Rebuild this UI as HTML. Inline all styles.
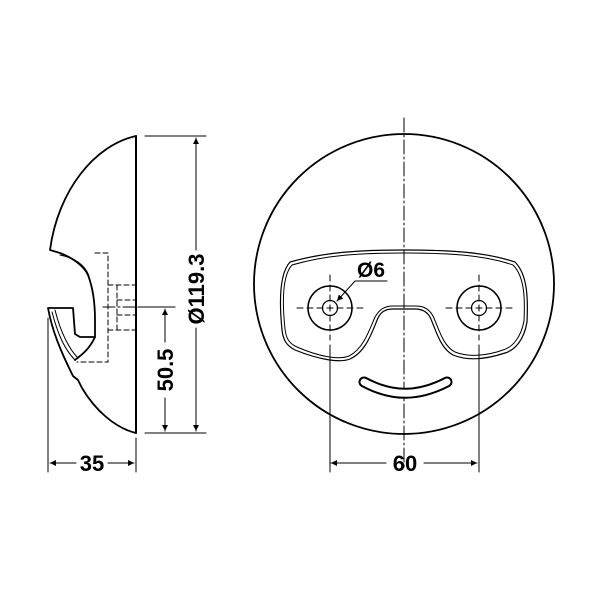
<!DOCTYPE html>
<html><head><meta charset="utf-8"><style>html,body{margin:0;padding:0;background:#fff}svg{display:block}</style></head><body>
<svg width="601" height="600" viewBox="0 0 601 600" xmlns="http://www.w3.org/2000/svg">
<defs>
<marker id="a" viewBox="0 0 10 10" refX="10" refY="5" markerWidth="14" markerHeight="6" markerUnits="userSpaceOnUse" orient="auto-start-reverse"><path d="M0,0 L10,5 L0,10 z" fill="#000"/></marker>
</defs>
<g fill="none" stroke="#000" stroke-linecap="round" stroke-linejoin="round">
<path d="M136,136 L136,433" stroke-width="2"/>
<path d="M136,136 C95,145 58,190 50,250 L60,253 C73,258 84,266 88,275 C93,288 95,305 95,320 L95,337 C90,348 83,354 75,360" stroke-width="1.8"/>
<path d="M95,337 L80,337 L75,334 L73,308 L48,308 C52,330 60,350 73,376 L78,380 L82,388 C95,410 115,428 136,433" stroke-width="1.8"/>
<path d="M52,312 C58,335 65,350 75,360" stroke-width="1"/>
<path d="M55,310 C61,334 70,350 78,358" stroke-width="1"/>
<path d="M60,255 C75,258 85,265 89,276" stroke-width="1"/>
<g stroke-width="1" stroke-dasharray="5,3">
<path d="M95,253 L108,253 L108,362 L77,362"/>
<path d="M108,285 L136,285 M108,330 L136,330 M117,285 L117,330 M117,300 L136,300 M117,315 L136,315"/>
</g>
<path d="M103,307 L145,307" stroke-width="1" stroke-dasharray="12,3,2,3"/>
<path d="M48,318 L48,472 M136,438 L136,472" stroke-width="1"/>
<g stroke-width="1">
<path d="M145,136 L206,136 M145,433 L206,433 M140,307 L175,307"/>
<path d="M196,138 L196,250 M196,328 L196,431" marker-start="url(#a)" marker-end="url(#a)"/>
<path d="M165,309 L165,342 M165,398 L165,431" marker-start="url(#a)" marker-end="url(#a)"/>
<path d="M50,463 L76,463 M108,463 L134,463" marker-start="url(#a)" marker-end="url(#a)"/>
</g>
<circle cx="404" cy="284" r="150" stroke-width="1.8"/>
<path d="M404,118 L404,470" stroke-width="1" stroke-dasharray="14,3,2,3"/>
<path d="M290,262 C325,252 360,250 404,250 C450,250 485,252 515,262 C528,275 528,300 527,322 C524,340 515,350 505,353 C490,358 470,362 453,355 C440,348 436,330 430,317 C426,310 420,309 415,309 L393,309 C385,309 381,312 378,318 C372,332 366,352 350,359 C340,363 320,360 295,350 C285,345 283,338 282,330 C280,310 278,275 290,262 Z" stroke-width="1.2"/>
<path d="M292,265 C326,255 360,253 404,253 C450,253 484,255 513,265 C525,277 525,300 524,321 C521,337 513,347 503,350 C489,355 470,358 455,352 C443,346 439,329 433,316 C428,307 421,306 415,306 L393,306 C384,306 379,310 375,317 C369,331 363,349 349,356 C339,360 320,357 297,347 C288,343 286,337 285,329 C283,310 281,277 292,265 Z" stroke-width="1"/>
<path d="M364,382 C392,397 418,397 447,382" stroke="#000" stroke-width="11"/>
<path d="M364,382 C392,397 418,397 447,382" stroke="#fff" stroke-width="7"/>
<circle cx="330" cy="308" r="22" stroke-width="1.5"/>
<circle cx="330" cy="308" r="7.5" stroke-width="1.2"/>
<circle cx="479" cy="308" r="22" stroke-width="1.5"/>
<circle cx="479" cy="308" r="7.5" stroke-width="1.2"/>
<g stroke-width="1" stroke-dasharray="6,4">
<path d="M297,308 L363,308 M330,275 L330,340 M446,308 L512,308 M479,275 L479,340"/>
</g>
<path d="M330,345 L330,472 M479,345 L479,472" stroke-width="1"/>
<path d="M387,281 L355,281 L337,301" stroke-width="1" marker-end="url(#a)"/>
<path d="M331,463 L386,463 M424,463 L477,463" stroke-width="1" marker-start="url(#a)" marker-end="url(#a)"/>
</g>
<g font-family="Liberation Sans, sans-serif" font-weight="bold" font-size="22" fill="#000">
<text x="92" y="471" text-anchor="middle">35</text>
<text x="405" y="471" text-anchor="middle">60</text>
<text x="371" y="277" text-anchor="middle" font-size="21">Ø6</text>
<text transform="translate(204,289) rotate(-90)" text-anchor="middle">Ø119.3</text>
<text transform="translate(173,370) rotate(-90)" text-anchor="middle">50.5</text>
</g>
</svg>
</body></html>
